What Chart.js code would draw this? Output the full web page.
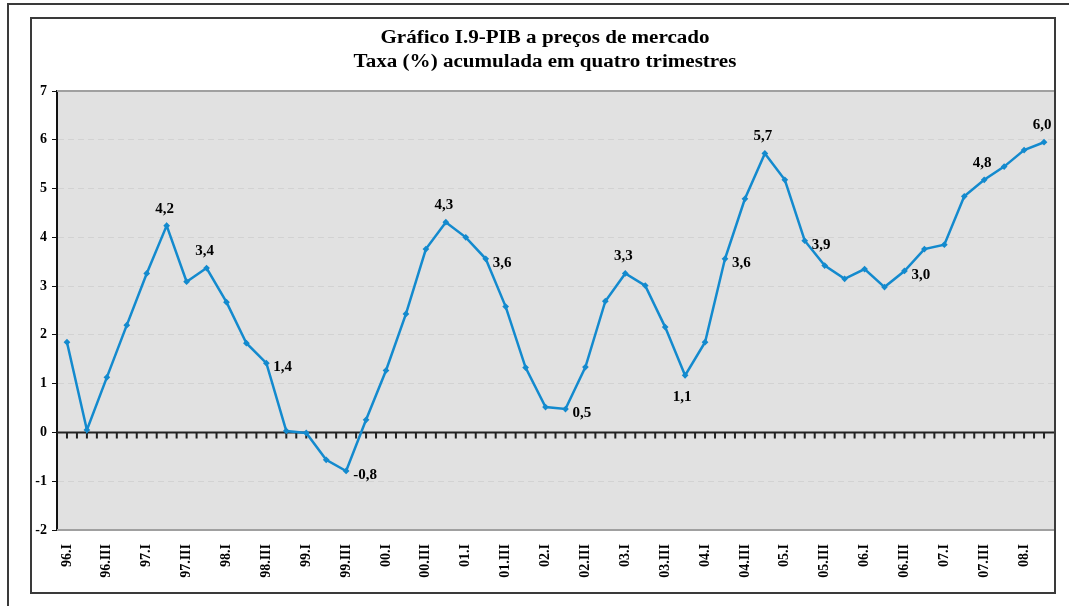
<!DOCTYPE html>
<html>
<head>
<meta charset="utf-8">
<script src="https://cdn.jsdelivr.net/npm/chart.js@4/dist/chart.umd.min.js"></script>
<style>
  html, body { margin: 0; padding: 0; background: #fff; }
  #wrap { width: 1069px; height: 606px; position: relative; }
</style>
</head>
<body>
<div id="wrap"><canvas id="pib" width="1069" height="606"></canvas></div>
<script>
// quarters 96.I .. 08.II
const years = ['96', '97', '98', '99', '00', '01', '02', '03', '04', '05', '06', '07', '08'];
const quarterNames = ['I', 'II', 'III', 'IV'];
const quarters = [];
for (let y of years) {
    for (let q of quarterNames) quarters.push(y + '.' + q);
}
quarters.length = 50;

// taxa (%) acumulada em quatro trimestres
const pib = [
    1.85, 0.05, 1.13, 2.20,
    3.26, 4.24, 3.09, 3.37,
    2.67, 1.83, 1.42, 0.03,
    -0.01, -0.56, -0.79, 0.26,
    1.27, 2.43, 3.76, 4.31,
    4.00, 3.56, 2.58, 1.33,
    0.52, 0.48, 1.34, 2.69,
    3.26, 3.01, 2.16, 1.17,
    1.85, 3.56, 4.79, 5.72,
    5.18, 3.93, 3.42, 3.15,
    3.35, 2.98, 3.31, 3.76,
    3.85, 4.84, 5.18, 5.45,
    5.79, 5.95
];

// annotated points
const labelIdx  = [5, 7, 10, 14, 19, 21, 25, 28, 31, 33, 35, 37, 42, 46, 49];
const labelText = ['4,2', '3,4', '1,4', '-0,8', '4,3', '3,6', '0,5', '3,3', '1,1', '3,6', '5,7', '3,9', '3,0', '4,8', '6,0'];
const labelPos  = ['above', 'above', 'right', 'right', 'above', 'right', 'right', 'above', 'below', 'right', 'above', 'right', 'right', 'above', 'above'];

const yTicks = [-2, -1, 0, 1, 2, 3, 4, 5, 6, 7];

const titleLines = ['Gráfico I.9-PIB a preços de mercado', 'Taxa (%) acumulada em quatro trimestres'];

const serif = '"Liberation Serif", "Times New Roman", serif';

// frames, plot background and title
const framePlugin = {
    id: 'frame',
    beforeDraw(chart) {
        const ctx = chart.ctx;
        const a = chart.chartArea;
        ctx.save();
        ctx.fillStyle = '#fff';
        ctx.fillRect(0, 0, chart.width, chart.height);

        ctx.strokeStyle = '#3a3a3a';
        ctx.lineWidth = 2;
        ctx.beginPath();
        ctx.moveTo(8, chart.height);
        ctx.lineTo(8, 4);
        ctx.lineTo(chart.width, 4);
        ctx.stroke();
        ctx.strokeRect(31, 18, 1024, 575);

        ctx.fillStyle = '#e1e1e1';
        ctx.fillRect(a.left, a.top, a.right - a.left, a.bottom - a.top);

        // title, the original is a bit wide
        ctx.fillStyle = '#000';
        ctx.textAlign = 'center';
        ctx.textBaseline = 'middle';
        ctx.font = 'bold 18px ' + serif;
        ctx.translate(545, 0);
        ctx.scale(1.17, 1);
        ctx.fillText(titleLines[0], 0, 38);
        ctx.fillText(titleLines[1], 0, 62);
        ctx.restore();
    },
    beforeDatasetsDraw(chart) {
        const ctx = chart.ctx;
        const a = chart.chartArea;
        const x = chart.scales.x;
        const y0 = chart.scales.y.getPixelForValue(0);
        const half = (x.getPixelForValue(1) - x.getPixelForValue(0)) / 2;
        ctx.save();
        ctx.strokeStyle = '#a0a0a0';
        ctx.lineWidth = 2;
        ctx.beginPath();
        ctx.moveTo(a.left, a.top);
        ctx.lineTo(a.right, a.top);
        ctx.moveTo(a.left, a.bottom);
        ctx.lineTo(a.right, a.bottom);
        ctx.stroke();

        // zero axis with tick marks
        ctx.strokeStyle = '#222';
        ctx.lineWidth = 2;
        ctx.beginPath();
        ctx.moveTo(a.left, y0);
        ctx.lineTo(a.right, y0);
        ctx.stroke();
        ctx.lineWidth = 2;
        ctx.beginPath();
        for (let i = 0; i < quarters.length; i++) {
            const c = x.getPixelForValue(i);
            for (let px of [c - half, c]) {
                if (px <= a.left + 1) continue;
                ctx.moveTo(px, y0);
                ctx.lineTo(px, y0 + 6);
            }
        }
        ctx.stroke();
        ctx.restore();
    },
    afterDatasetsDraw(chart) {
        const ctx = chart.ctx;
        const pts = chart.getDatasetMeta(0).data;
        ctx.save();
        ctx.fillStyle = '#000';
        ctx.font = 'bold 15px ' + serif;
        ctx.textBaseline = 'middle';
        labelIdx.forEach(function(idx, k) {
            const p = pts[idx];
            const pos = labelPos[k];
            if (pos === 'right') {
                ctx.textAlign = 'left';
                ctx.fillText(labelText[k], p.x + 7, p.y + 4);
            } else if (pos === 'below') {
                ctx.textAlign = 'center';
                ctx.fillText(labelText[k], p.x - 3, p.y + 22);
            } else {
                ctx.textAlign = 'center';
                ctx.fillText(labelText[k], p.x - 2, p.y - 17);
            }
        });
        ctx.restore();
    }
};

const ctx = document.getElementById('pib').getContext('2d');
const chart = new Chart(ctx, {
    type: 'line',
    data: {
        labels: quarters,
        datasets: [{
            data: pib,
            borderColor: '#138ace',
            backgroundColor: '#138ace',
            borderWidth: 2.5,
            pointStyle: 'rectRot',
            pointRadius: 1.6,
            pointHoverRadius: 1.6,
            tension: 0
        }]
    },
    options: {
        responsive: false,
        animation: false,
        events: [],
        layout: { padding: { top: 91, left: 31, right: 15, bottom: 13 } },
        plugins: {
            legend: { display: false },
            title: { display: false },
            tooltip: { enabled: false }
        },
        scales: {
            x: {
                offset: true,
                grid: { display: false },
                border: { display: false },
                afterFit(scale) { scale.height = 63; },
                ticks: {
                    autoSkip: false,
                    minRotation: 90,
                    maxRotation: 90,
                    padding: 6,
                    color: '#000',
                    font: { family: serif, weight: 'bold', size: 14 },
                    callback: function(v, i) { return i % 2 === 0 ? quarters[i] : ''; }
                }
            },
            y: {
                min: yTicks[0],
                max: yTicks[yTicks.length - 1],
                afterFit(scale) { scale.width = 26; },
                afterBuildTicks(scale) { scale.ticks = yTicks.map(v => ({ value: v })); },
                grid: {
                    color: function(c) { return (c.tick.value === yTicks[0] || c.tick.value === yTicks[yTicks.length - 1]) ? 'rgba(0,0,0,0)' : '#d2d2d2'; },
                    tickColor: '#111',
                    tickLength: 5,
                    lineWidth: 1
                },
                border: { color: '#111', width: 2, dash: [6, 4] },
                ticks: {
                    padding: 5,
                    color: '#000',
                    font: { family: serif, weight: 'bold', size: 14 }
                }
            }
        }
    },
    plugins: [framePlugin]
});
</script>
</body>
</html>
